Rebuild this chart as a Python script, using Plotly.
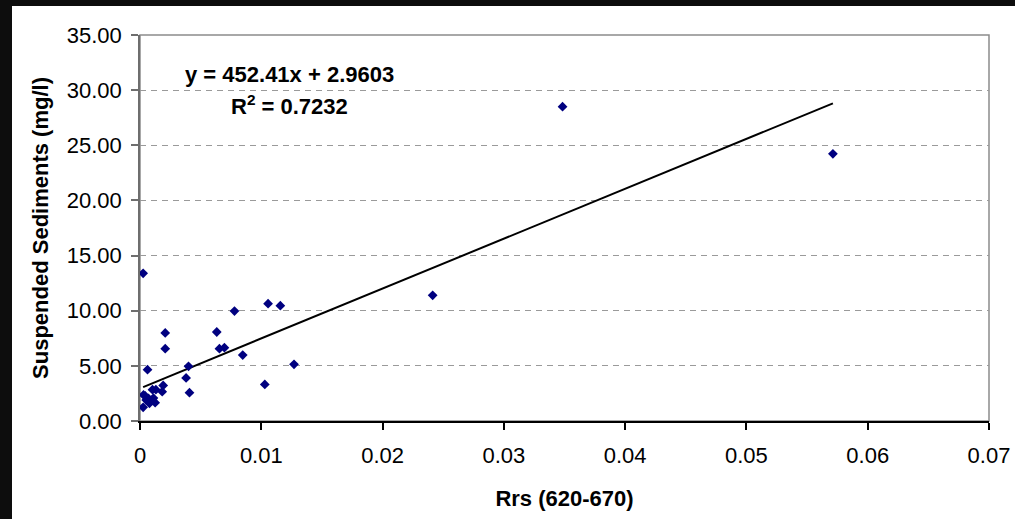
import plotly.graph_objects as go

# Data
rrs = [0.00026, 0.01056, 0.01157, 0.00779, 0.00208, 0.00633, 0.00208, 0.00655,
       0.00696, 0.00847, 0.01270, 0.00062, 0.00400, 0.00380, 0.01029, 0.00408,
       0.00191, 0.00183, 0.00103, 0.00131, 0.00125, 0.00111, 0.00026, 0.00029,
       0.00043, 0.00051, 0.00078, 0.00098, 0.00070, 0.03484, 0.05713, 0.02413]
sediments = [13.39, 10.64, 10.46, 9.97, 7.98, 8.07, 6.56, 6.56,
             6.65, 5.98, 5.14, 4.65, 4.96, 3.90, 3.32, 2.57,
             3.23, 2.66, 2.84, 2.84, 1.66, 2.08, 1.24, 2.36,
             2.27, 1.90, 1.60, 1.84, 2.06, 28.50, 24.23, 11.40]
slope = 452.41
intercept = 2.9603
r_squared = 0.7232
y_ticks = [0, 5, 10, 15, 20, 25, 30, 35]
x_ticks = [0, 0.01, 0.02, 0.03, 0.04, 0.05, 0.06, 0.07]

FONT = "Liberation Sans, Arial, sans-serif"
FS = 22
DARK = "#0d0d0d"

trend_x = [min(rrs), max(rrs)]
trend_y = [slope * v + intercept for v in trend_x]

fig = go.Figure()
fig.add_trace(go.Scatter(
    x=trend_x, y=trend_y, mode="lines",
    line=dict(color="black", width=2), showlegend=False, hoverinfo="skip"))
fig.add_trace(go.Scatter(
    x=rrs, y=sediments, mode="markers",
    marker=dict(symbol="diamond", size=7.5, color="#000080", line=dict(width=0)),
    showlegend=False))

fig.update_layout(
    width=1015, height=519,
    margin=dict(l=140, r=26, t=35, b=98, pad=0, autoexpand=False),
    paper_bgcolor=DARK,
    plot_bgcolor="white",
    font=dict(family=FONT, size=FS, color="black"),
    shapes=[
        # white chart area inside the dark page frame
        dict(type="rect", xref="paper", yref="paper", xsizemode="pixel",
             xanchor=0, x0=-128, x1=900, ysizemode="pixel", yanchor=0,
             y0=-120, y1=415, fillcolor="white", line=dict(width=0), layer="below"),
        dict(type="rect", xref="paper", yref="paper", x0=0, x1=1, y0=0, y1=1,
             fillcolor="rgba(0,0,0,0)", line=dict(color="#8c8c8c", width=1.5), layer="below"),
    ],
    annotations=[
        dict(x=0.01229, y=31.46, xref="x", yref="y", text="y = 452.41x + 2.9603",
             showarrow=False, xanchor="center", yanchor="middle",
             font=dict(family=FONT, size=FS, color="black", weight="bold")),
        dict(x=0.01229, y=28.65, xref="x", yref="y",
             text="R<sup>2</sup> = " + f"{r_squared:.4f}",
             showarrow=False, xanchor="center", yanchor="middle",
             font=dict(family=FONT, size=FS, color="black", weight="bold")),
    ],
)

fig.update_xaxes(
    range=[0, 0.07], tickvals=x_ticks, ticktext=[("%g" % v) for v in x_ticks],
    automargin=False,
    showgrid=False, zeroline=False,
    showline=True, linecolor="black", linewidth=1.5,
    ticks="outside", ticklen=7, tickcolor="black", tickwidth=1.5,
    ticklabelstandoff=7,
    tickfont=dict(family=FONT, size=FS, color="black"),
    title=dict(text="Rrs (620-670)", standoff=23,
               font=dict(family=FONT, size=FS, color="black", weight="bold")),
)
fig.update_yaxes(
    range=[0, 35], tickvals=y_ticks, tickformat=".2f",
    automargin=False,
    showgrid=True, gridcolor="#9a9a9a", gridwidth=1.2, griddash="6px,5px",
    zeroline=False,
    showline=True, linecolor="#6e6e6e", linewidth=1.5,
    ticks="outside", ticklen=7, tickcolor="#6e6e6e", tickwidth=1.5,
    ticklabelstandoff=5,
    tickfont=dict(family=FONT, size=FS, color="black"),
    title=dict(text="Suspended Sediments (mg/l)", standoff=12,
               font=dict(family=FONT, size=FS, color="black", weight="bold")),
)

page_js = (
    "document.documentElement.style.margin='0';"
    "document.documentElement.style.padding='0';"
    "document.documentElement.style.background='" + DARK + "';"
    "document.body.style.margin='0';document.body.style.padding='0';"
    "document.body.style.overflow='hidden';"
    "document.body.style.background='" + DARK + "';"
    "var s=document.createElement('div');"
    "s.style.cssText='position:fixed;left:0;top:0;width:12px;height:100%;"
    "background:" + DARK + ";z-index:9999;pointer-events:none;';"
    "document.body.appendChild(s);"
)

fig.write_html(
    "out.html",
    config={"displayModeBar": False},
    post_script=page_js,
)
